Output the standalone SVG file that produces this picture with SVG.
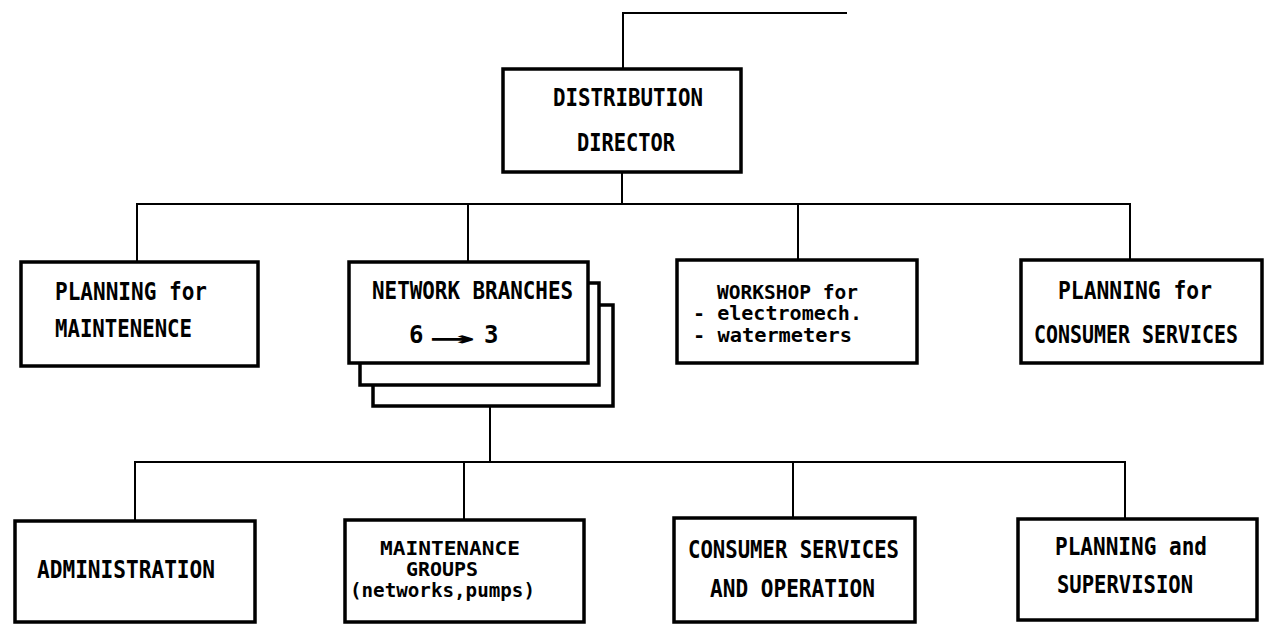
<svg xmlns="http://www.w3.org/2000/svg" width="1264" height="624" viewBox="0 0 1264 624">
<style>
.box{fill:#fff;stroke:#000;stroke-width:3.5}
.con{fill:none;stroke:#000;stroke-width:2}
.t{font-family:"DejaVu Sans Mono","Liberation Mono",monospace;font-weight:bold;font-size:24px;fill:#000}
.s{font-size:19px}
</style>
<rect width="1264" height="624" fill="#fff"/>
<g id="connectors">
<path class="con" d="M623,69 V13 H847"/>
<path class="con" d="M622,172 V204"/>
<path class="con" d="M137,262 V204 H1130 V261"/>
<path class="con" d="M468,204 V262"/>
<path class="con" d="M798,204 V261"/>
<path class="con" d="M490,407 V462"/>
<path class="con" d="M135,521 V462 H1125 V519"/>
<path class="con" d="M464,462 V520"/>
<path class="con" d="M793,462 V518"/>
</g>
<g id="director">
<rect class="box" x="503" y="69" width="238" height="103"/>
<text class="t" x="553" y="106" textLength="150" lengthAdjust="spacingAndGlyphs">DISTRIBUTION</text>
<text class="t" x="577" y="151" textLength="98" lengthAdjust="spacingAndGlyphs">DIRECTOR</text>
</g>
<g id="planning-maintenance">
<rect class="box" x="21" y="262" width="237" height="104"/>
<text class="t" x="55" y="300" textLength="152" lengthAdjust="spacingAndGlyphs">PLANNING for</text>
<text class="t" x="55" y="337" textLength="137" lengthAdjust="spacingAndGlyphs">MAINTENENCE</text>
</g>
<g id="network-branches">
<rect class="box" x="373" y="305" width="240" height="101"/>
<rect class="box" x="360" y="283" width="239" height="102"/>
<rect class="box" x="349" y="262" width="239" height="101"/>
<text class="t" x="372" y="299" textLength="201" lengthAdjust="spacingAndGlyphs">NETWORK BRANCHES</text>
<text class="t" x="409" y="343">6</text>
<text class="t" x="429" y="346" font-size="44" textLength="46" lengthAdjust="spacingAndGlyphs">→</text>
<text class="t" x="484" y="343">3</text>
</g>
<g id="workshop">
<rect class="box" x="677" y="260" width="240" height="103"/>
<text class="t s" x="717" y="299" textLength="141" lengthAdjust="spacingAndGlyphs">WORKSHOP for</text>
<text class="t s" x="693" y="320" textLength="169" lengthAdjust="spacingAndGlyphs">- electromech.</text>
<text class="t s" x="693" y="342" textLength="159" lengthAdjust="spacingAndGlyphs">- watermeters</text>
</g>
<g id="planning-consumer">
<rect class="box" x="1021" y="260" width="241" height="103"/>
<text class="t" x="1058" y="299" textLength="154" lengthAdjust="spacingAndGlyphs">PLANNING for</text>
<text class="t" x="1034" y="343" font-size="20" textLength="204" lengthAdjust="spacingAndGlyphs">CONSUMER SERVICES</text>
</g>
<g id="administration">
<rect class="box" x="15" y="521" width="240" height="101"/>
<text class="t" x="37" y="578" textLength="178" lengthAdjust="spacingAndGlyphs">ADMINISTRATION</text>
</g>
<g id="maintenance-groups">
<rect class="box" x="345" y="520" width="239" height="102"/>
<text class="t s" x="380" y="555" textLength="140" lengthAdjust="spacingAndGlyphs">MAINTENANCE</text>
<text class="t s" x="406" y="576" textLength="72" lengthAdjust="spacingAndGlyphs">GROUPS</text>
<text class="t s" x="350" y="597" textLength="185" lengthAdjust="spacingAndGlyphs">(networks,pumps)</text>
</g>
<g id="consumer-operation">
<rect class="box" x="674" y="518" width="241" height="104"/>
<text class="t" x="688" y="558" textLength="211" lengthAdjust="spacingAndGlyphs">CONSUMER SERVICES</text>
<text class="t" x="710" y="597" textLength="165" lengthAdjust="spacingAndGlyphs">AND OPERATION</text>
</g>
<g id="planning-supervision">
<rect class="box" x="1018" y="519" width="239" height="101"/>
<text class="t" x="1055" y="555" textLength="152" lengthAdjust="spacingAndGlyphs">PLANNING and</text>
<text class="t" x="1057" y="593" textLength="136" lengthAdjust="spacingAndGlyphs">SUPERVISION</text>
</g>
</svg>
